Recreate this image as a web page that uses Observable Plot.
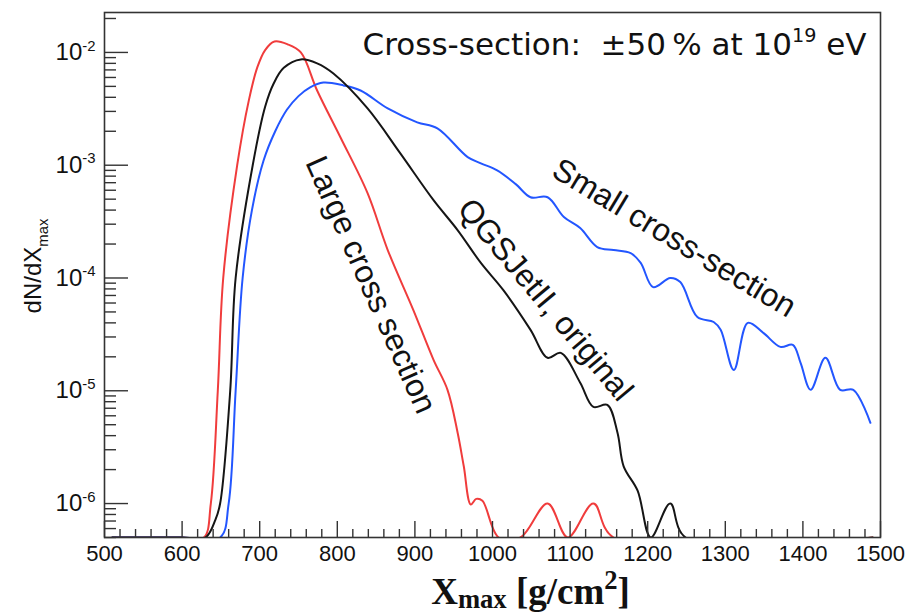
<!DOCTYPE html>
<html><head><meta charset="utf-8">
<script src="https://cdn.jsdelivr.net/npm/d3@7"></script>
<script src="https://cdn.jsdelivr.net/npm/@observablehq/plot@0.6"></script>
<style>body{margin:0;background:#fff} svg{display:block}</style>
</head><body><div id="chart"></div>
<script>
// ---------- data (0 = empty bin, drawn on the axis floor as ROOT does) ----------
const largeX = [510, 600, 628, 637, 646, 653, 671, 686, 697, 707, 719, 736, 753, 774, 804, 839, 865, 898, 924, 942, 955, 963, 972, 979, 987, 1008, 1036, 1071, 1097, 1130, 1156, 1490];
const largeY = [0, 0, 0, 1e-6, 1e-5, 1e-4, 1e-3, 3.76e-3, 7.4e-3, 1.05e-2, 1.25e-2, 1.18e-2, 1e-2, 4.6e-3, 1.77e-3, 5.65e-4, 1.77e-4, 5.2e-5, 1.88e-5, 1.02e-5, 4.27e-6, 2.14e-6, 9.8e-7, 1.1e-6, 1.06e-6, 0, 0, 1e-6, 0, 1e-6, 0, 0];

const origX = [510, 600, 630, 643, 649, 662, 669, 691, 707, 718, 731, 753, 774, 795, 839, 881, 924, 955, 985, 1014, 1049, 1071, 1088, 1113, 1130, 1148, 1161, 1169, 1187, 1204, 1229, 1249, 1490];
const origY = [0, 0, 0, 7.2e-7, 1e-6, 1e-5, 1e-4, 1e-3, 3.3e-3, 5.3e-3, 7.3e-3, 8.67e-3, 8.0e-3, 6.5e-3, 3.19e-3, 1.28e-3, 4.9e-4, 2.66e-4, 1.36e-4, 7.8e-5, 3.47e-5, 1.96e-5, 2.17e-5, 1.18e-5, 7.2e-6, 7.5e-6, 4.27e-6, 2.14e-6, 1.3e-6, 0, 1e-6, 0, 0];

const smallX = [510, 600, 649, 660, 669, 678, 690, 705, 720, 735, 750, 765, 782, 808, 830, 865, 903, 929, 968, 985, 1006, 1030, 1049, 1071, 1092, 1113, 1135, 1156, 1178, 1191, 1207, 1229, 1242, 1264, 1285, 1294, 1311, 1329, 1349, 1371, 1387, 1397, 1410, 1429, 1448, 1465, 1487];
const smallY = [0, 0, 0, 1e-6, 1e-5, 1e-4, 4e-4, 1.1e-3, 2.0e-3, 3.1e-3, 4.1e-3, 4.9e-3, 5.4e-3, 5.1e-3, 4.6e-3, 3.19e-3, 2.4e-3, 2.12e-3, 1.18e-3, 1.04e-3, 9.0e-4, 6.8e-4, 5.2e-4, 5.2e-4, 3.47e-4, 2.77e-4, 1.88e-4, 1.77e-4, 1.66e-4, 1.36e-4, 8.3e-5, 1.0e-4, 9.2e-5, 4.5e-5, 4.07e-5, 3.47e-5, 1.53e-5, 4.0e-5, 3.26e-5, 2.45e-5, 2.55e-5, 1.77e-5, 1.02e-5, 1.96e-5, 1.02e-5, 1.02e-5, 5.2e-6];

const xMajor = [500, 600, 700, 800, 900, 1000, 1100, 1200, 1300, 1400, 1500];
const yMajor = [1e-6, 1e-5, 1e-4, 1e-3, 1e-2];
const yMajorLabels = ["10^{-6}", "10^{-5}", "10^{-4}", "10^{-3}", "10^{-2}"];
const seriesNames = ["Large cross section", "QGSJetII, original", "Small cross-section"];
const headerText = "Cross-section:  \u00b150\u2009% at 10^{19} eV";
const xTitle = "X_{max} [g/cm^{2}]";
const yTitle = "dN/dX_{max}";

// ---------- derived ----------
const yDomain = [5e-7, 0.0226];
const floorY = v => Math.max(v, yDomain[0]);
const toRows = (xs, ys) => xs.map((x, i) => ({x, y: floorY(ys[i])}));
const large = toRows(largeX, largeY), orig = toRows(origX, origY), small = toRows(smallX, smallY);
const xMinor = d3.range(500, 1501, 20).filter(v => v % 100 !== 0);
const yMinor = [];
for (let e = -7; e <= -2; e++) for (let m = 2; m <= 9; m++) { const v = m * 10 ** e; if (v >= yDomain[0] && v <= yDomain[1]) yMinor.push(v); }
const labelFor = new Map(yMajor.map((v, i) => [v, yMajorLabels[i]]));

const annotations = [
  {text: seriesNames[0], x: 843, y: 8.7e-5, angle: 66},
  {text: seriesNames[1], x: 1068, y: 6.4e-5, angle: 50},
  {text: seriesNames[2], x: 1234, y: 2.26e-4, angle: 31}
];

const SANS = "Liberation Sans, Arial, Helvetica, sans-serif";
const RED = "#f03c3c", BLUE = "#2356ff", BLACK = "#151515";

const chart = Plot.plot({
  width: 911, height: 614,
  marginLeft: 104, marginRight: 31, marginTop: 12, marginBottom: 77,
  style: {fontFamily: SANS, color: "#111", background: "#fff"},
  x: {domain: [500, 1500]},
  y: {type: "log", domain: yDomain},
  marks: [
    Plot.line(large, {x: "x", y: "y", stroke: RED, strokeWidth: 2, curve: "catmull-rom", clip: true}),
    Plot.line(small, {x: "x", y: "y", stroke: BLUE, strokeWidth: 2, curve: "catmull-rom", clip: true}),
    Plot.line(orig, {x: "x", y: "y", stroke: BLACK, strokeWidth: 2, curve: "catmull-rom", clip: true}),
    Plot.frame({stroke: "#333", strokeWidth: 1.6}),
    Plot.axisX({ticks: xMinor, tickSize: -8, tickFormat: () => "", label: null, stroke: "#333", strokeWidth: 1.4}),
    Plot.axisX({ticks: xMajor, tickSize: -16, tickPadding: 24, tickFormat: d => String(d), label: null,
      fontSize: 22, fontFamily: SANS, stroke: "#333", strokeWidth: 1.4}),
    Plot.axisY({ticks: yMinor, tickSize: -12, tickFormat: () => "", label: null, stroke: "#333", strokeWidth: 1.4}),
    Plot.axisY({ticks: yMajor, tickSize: -24, tickPadding: 33, tickFormat: d => labelFor.get(d), label: null,
      fontSize: 24, fontFamily: SANS, stroke: "#333", strokeWidth: 1.4}),
    Plot.text(annotations, {x: "x", y: "y", text: "text", rotate: "angle", fontSize: 32, fontFamily: SANS, fill: "#111", textAnchor: "middle", lineAnchor: "middle"}),
    Plot.text([headerText], {frameAnchor: "top-right", text: d => d, textAnchor: "end", lineAnchor: "bottom", dx: -14, dy: 42,
      fontSize: 31, fontFamily: "DejaVu Sans, Liberation Sans, sans-serif", fill: "#111"}),
    Plot.text([xTitle], {x: [1049], frameAnchor: "bottom", text: d => d, textAnchor: "middle", lineAnchor: "bottom", dy: 66,
      fontSize: 37, fontWeight: "bold", fontFamily: "Liberation Serif, DejaVu Serif, serif", fill: "#111", className: "xtitle"}),
    Plot.text([yTitle], {frameAnchor: "left", text: d => d, rotate: -90, textAnchor: "middle", lineAnchor: "middle", dx: -71, dy: -9,
      fontSize: 24, fontFamily: SANS, fill: "#111"})
  ]
});
document.getElementById("chart").appendChild(chart);

// turn ^{..} / _{..} into real superscript / subscript tspans
function supify(root, scale = 0.62, subShift = 0.3) {
  root.querySelectorAll("text").forEach(t => {
    const s = t.textContent;
    if (!/[\^_]\{/.test(s)) return;
    const fs = parseFloat(getComputedStyle(t).fontSize) || 12;
    const parts = [], re = /([\^_])\{([^}]*)\}/g; let last = 0, m;
    while ((m = re.exec(s))) { if (m.index > last) parts.push({t: s.slice(last, m.index)}); parts.push({t: m[2], k: m[1]}); last = re.lastIndex; }
    if (last < s.length) parts.push({t: s.slice(last)});
    while (t.firstChild) t.removeChild(t.firstChild);
    let shift = 0;
    for (const p of parts) {
      const ts = document.createElementNS("http://www.w3.org/2000/svg", "tspan");
      const target = p.k === "^" ? -0.4 * fs : p.k === "_" ? subShift * fs : 0;
      ts.setAttribute("dy", (target - shift).toFixed(2)); shift = target;
      if (p.k) ts.setAttribute("font-size", (scale * fs).toFixed(1));
      ts.textContent = p.t;
      t.appendChild(ts);
    }
  });
}
const xt = chart.querySelector(".xtitle");
if (xt) supify(xt, 0.72, 0.12);
supify(chart);
</script></body></html>
